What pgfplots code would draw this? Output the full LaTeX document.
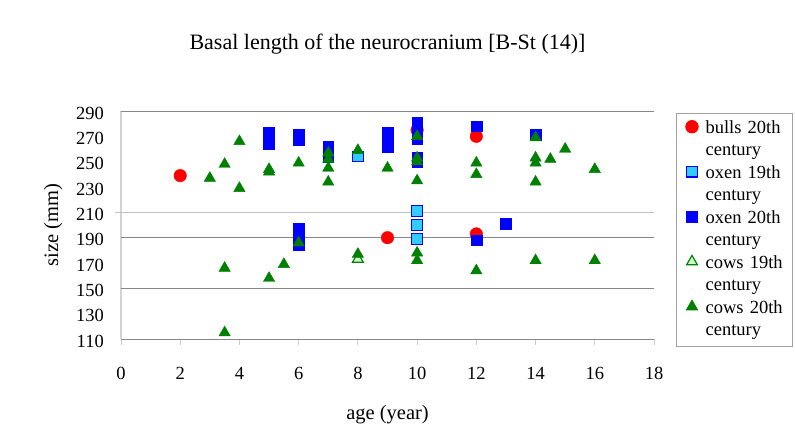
\documentclass[border=0pt]{standalone}
\usepackage{fontspec}
\setmainfont{Liberation Serif}
\usepackage{pgfplots}
\pgfplotsset{compat=1.18}
\definecolor{cowgreen}{RGB}{0,128,0}
\definecolor{lightgreen}{RGB}{204,255,204}
\definecolor{oxcyan}{RGB}{51,204,255}
\definecolor{oxblue}{RGB}{0,0,255}
\definecolor{gridgray}{RGB}{134,134,134}
\definecolor{lightgrid}{RGB}{192,192,192}
\definecolor{axisgray}{RGB}{210,210,210}
\definecolor{tickgray}{RGB}{205,205,205}
\definecolor{legendgray}{RGB}{160,160,160}
\begin{document}
\begin{tikzpicture}
\useasboundingbox (-121bp,-100bp) rectangle (674bp,339bp);
\begin{axis}[
  at={(0,0)}, anchor=south west,
  scale only axis, width=533bp, height=228bp,
  xmin=0, xmax=18, ymin=110, ymax=290,
  xtick={0,2,...,18}, ytick={110,130,...,290},
  axis x line*=bottom, axis y line*=left,
  x axis line style={draw=gridgray, line width=0.8bp},
  y axis line style={draw=axisgray, line width=1.5bp},
  tick align=outside, major tick length=6bp,
  xtick style={draw=tickgray, line width=0.8bp},
  ytick style={draw=none},
  extra y ticks={110,150,190,290},
  extra y tick labels={},
  extra y tick style={grid=major, major grid style={draw=gridgray, line width=0.8bp}, tick style={draw=gridgray, line width=0.8bp}},
  tick label style={font=\fontsize{18.5bp}{22bp}\selectfont},
  /pgf/number format/assume math mode=true,
  xticklabel style={anchor=base, yshift=-34.5bp},
  yticklabel style={anchor=east, inner sep=0pt, xshift=-11bp, yshift=-2bp},
  title={Basal length of the neurocranium [B-St (14)]},
  title style={at={(axis description cs:0.5,1.2456)}, anchor=base, font=\fontsize{22bp}{26bp}\selectfont},
  xlabel={age (year)},
  xlabel style={at={(axis description cs:0.5,-0.3509)}, anchor=base, font=\fontsize{20.5bp}{24bp}\selectfont},
  ylabel={size (mm)},
  ylabel style={at={(axis description cs:-0.1182,0.5)}, rotate=0, anchor=base, font=\fontsize{20.5bp}{24bp}\selectfont},
  legend style={at={(axis description cs:1.0413,0.991)}, anchor=north west, draw=legendgray, line width=0.8bp,
    inner xsep=9.3bp, inner ysep=4bp, column sep=7.3bp, row sep=0pt,
    nodes={inner sep=0pt, text height=15.75bp, text depth=6.75bp, text width=77.5bp, align=left}, cells={anchor=base west},
    font=\fontsize{18.5bp}{22.5bp}\selectfont},
  legend image code/.code={\draw[#1] plot coordinates {(0,6.5bp)};},
  clip=false,
]
\draw[lightgrid, line width=0.8bp] (axis cs:0,210) -- (axis cs:18,210);
\draw[lightgrid, line width=0.8bp] ([xshift=-6bp]axis cs:0,210) -- (axis cs:0,210);

\addplot[only marks, mark=*, mark size=6.3pt, mark options={fill=red, draw=red}]
  coordinates {(2,239) (9,190) (10,275) (12,270) (12,193)};
\addlegendentry{bulls 20th}
\addlegendimage{empty legend}
\addlegendentry{century}

\addplot[only marks, mark=square*, mark size=5.3pt, mark options={fill=oxcyan, draw=oxblue, line width=1.2bp}]
  coordinates {(6,186) (8,254) (10,211) (10,200) (10,189)};
\addlegendentry{oxen 19th}
\addlegendimage{empty legend}
\addlegendentry{century}

\addplot[only marks, mark=square*, mark size=5.4pt, mark options={fill=oxblue, draw=oxblue}]
  coordinates {(5,273) (5,268) (5,264) (6,271) (6,267) (6,197) (6,192) (6,184)
    (7,262) (7,254) (9,273) (9,267) (9,262) (10,281) (10,276) (10,268)
    (10,253) (10,250) (12,278) (12,188) (13,201) (14,271)};
\addlegendentry{oxen 20th}
\addlegendimage{empty legend}
\addlegendentry{century}

\addplot[only marks, mark=triangle*, mark size=6.3pt, mark options={fill=lightgreen, draw=cowgreen, line width=1.2bp}]
  coordinates {(8,173)};
\addlegendentry{cows 19th}
\addlegendimage{empty legend}
\addlegendentry{century}

\addplot[only marks, mark=triangle*, mark size=6.6pt, mark options={fill=cowgreen, draw=cowgreen}]
  coordinates {(3,237) (3.5,248) (3.5,166) (3.5,115) (4,266) (4,229)
    (5,244) (5,242) (5,158) (5.5,169) (6,249) (6,186) (7,257) (7,252)
    (7,245) (7,234) (8,259) (8,177) (9,245) (10,270) (10,253) (10,250)
    (10,235) (10,178) (10,172) (12,249) (12,240) (12,164) (14,269)
    (14,253) (14,249) (14,234) (14,172) (14.5,252) (15,260) (16,244) (16,172)};
\addlegendentry{cows 20th}
\addlegendimage{empty legend}
\addlegendentry{century}
\end{axis}
\end{tikzpicture}
\end{document}
